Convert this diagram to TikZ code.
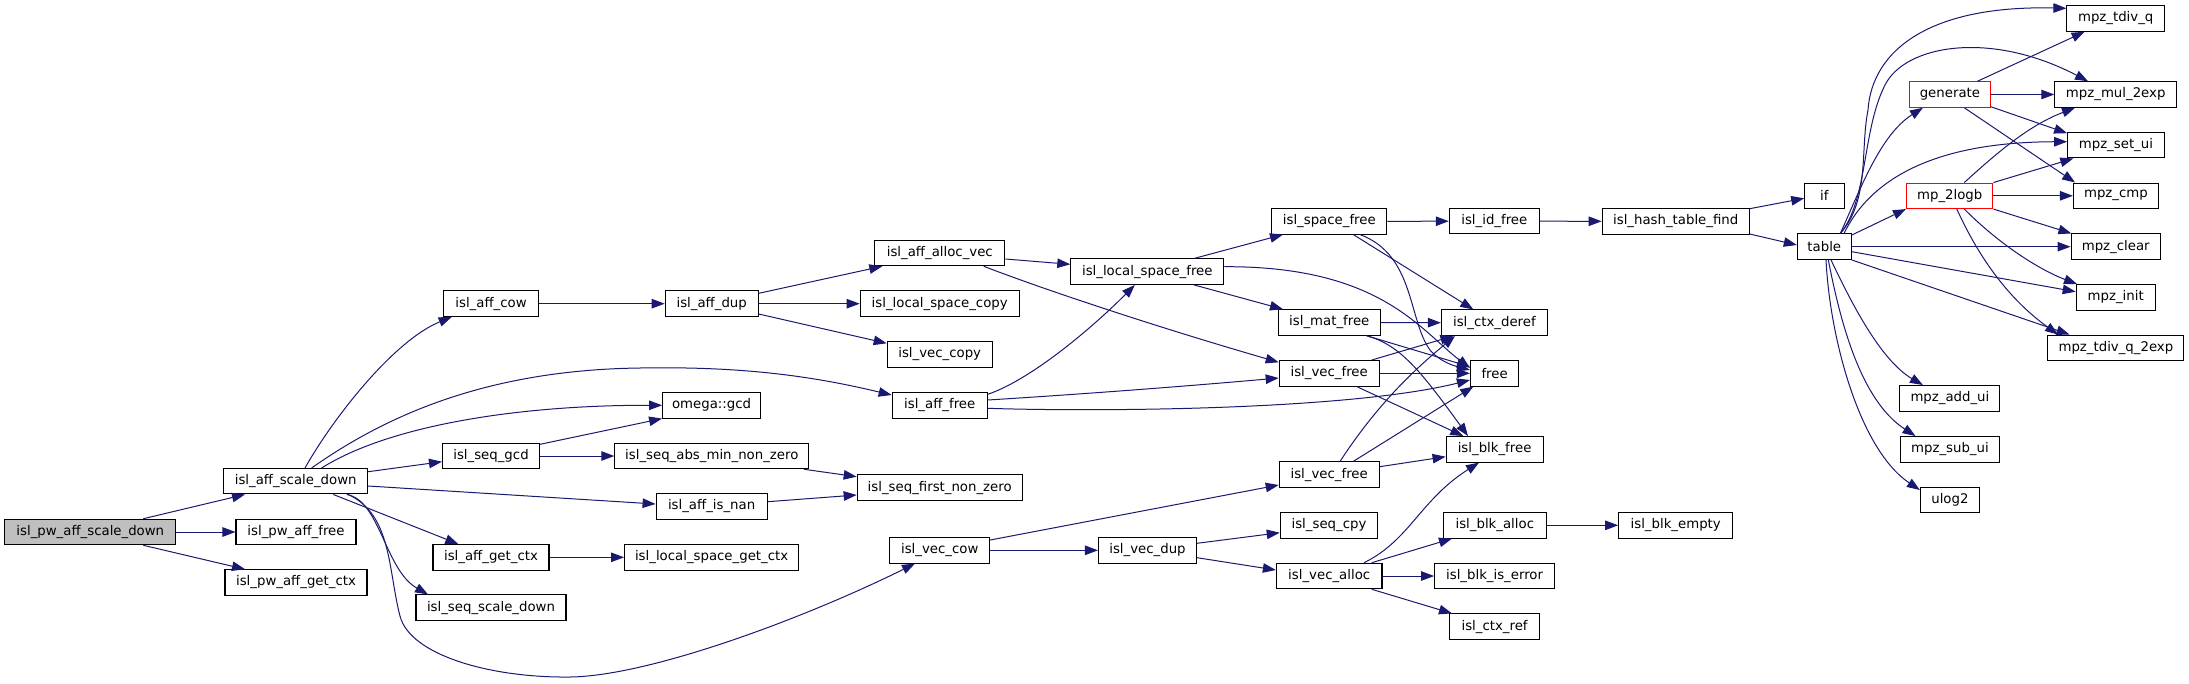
\documentclass[tikz,border=0pt]{standalone}
\usepackage{fontspec}
\setmainfont{DejaVu Sans}
\usetikzlibrary{arrows.meta}
\definecolor{edgeblue}{HTML}{191970}
\definecolor{rootgray}{HTML}{BFBFBF}
\definecolor{nodered}{HTML}{FF0000}
\tikzset{
  box/.style={draw=black, line width=1.05pt, fill=white, minimum height=25.5pt,
    inner sep=0pt, anchor=center, font=\fontsize{13.3pt}{16pt}\selectfont},
  redbox/.style={box, draw=nodered},
  edge/.style={draw=edgeblue, line width=1pt, -{Triangle[length=13pt,width=9.5pt]}}
}
\begin{document}
\begin{tikzpicture}[x=1pt,y=-1pt]
\useasboundingbox (0,0) rectangle (2189,683);
% column 1-2
\node[box, fill=rootgray, minimum width=171pt] (A) at (90.3,532) {isl\_pw\_aff\_scale\_down};
\node[box, minimum width=144pt] (B) at (295.7,481.2) {isl\_aff\_scale\_down};
\node[box, minimum width=120pt] (C) at (296,532) {isl\_pw\_aff\_free};
\node[box, minimum width=142pt] (D) at (296,582.5) {isl\_pw\_aff\_get\_ctx};
% column 3
\node[box, minimum width=95pt] (cow) at (491,303.7) {isl\_aff\_cow};
\node[box, minimum width=97pt] (seqgcd) at (491,456) {isl\_seq\_gcd};
\node[box, minimum width=116pt] (getctx) at (491,557.3) {isl\_aff\_get\_ctx};
\node[box, minimum width=150pt] (seqscale) at (491,607.7) {isl\_seq\_scale\_down};
% column 4
\node[box, minimum width=93pt] (dup) at (711.7,303.7) {isl\_aff\_dup};
\node[box, minimum width=98pt] (ogcd) at (711.6,405.3) {omega::gcd};
\node[box, minimum width=194pt] (absmin) at (711.8,456) {isl\_seq\_abs\_min\_non\_zero};
\node[box, minimum width=111pt] (isnan) at (711.6,506.3) {isl\_aff\_is\_nan};
\node[box, minimum width=174pt] (lsgetctx) at (711.6,557.3) {isl\_local\_space\_get\_ctx};
% column 5
\node[box, minimum width=130pt] (allocvec) at (939.8,253) {isl\_aff\_alloc\_vec};
\node[box, minimum width=159pt] (lscopy) at (939.7,303.7) {isl\_local\_space\_copy};
\node[box, minimum width=105pt] (veccopy) at (939.7,354.3) {isl\_vec\_copy};
\node[box, minimum width=95pt] (afffree) at (939.7,405.3) {isl\_aff\_free};
\node[box, minimum width=165pt] (firstnz) at (939.7,487.7) {isl\_seq\_first\_non\_zero};
\node[box, minimum width=100pt] (veccow) at (939.7,550.3) {isl\_vec\_cow};
% column 6
\node[box, minimum width=153pt] (lsfree) at (1147.3,271.7) {isl\_local\_space\_free};
\node[box, minimum width=98pt] (vecdup) at (1147.5,550.3) {isl\_vec\_dup};
% column 7
\node[box, minimum width=115pt] (spacefree) at (1329.3,221.3) {isl\_space\_free};
\node[box, minimum width=102.5pt] (matfree) at (1329.3,322.5) {isl\_mat\_free};
\node[box, minimum width=100pt] (vecfreeA) at (1329.2,373.3) {isl\_vec\_free};
\node[box, minimum width=100pt] (vecfreeB) at (1329.2,474.7) {isl\_vec\_free};
\node[box, minimum width=97.5pt] (seqcpy) at (1329,525.3) {isl\_seq\_cpy};
\node[box, minimum width=105.6pt] (vecalloc) at (1329.2,576) {isl\_vec\_alloc};
% column 8
\node[box, minimum width=90pt] (idfree) at (1494.3,221.2) {isl\_id\_free};
\node[box, minimum width=106pt] (ctxderef) at (1494.4,322.7) {isl\_ctx\_deref};
\node[box, minimum width=48.3pt] (free) at (1494.6,373.3) {free};
\node[box, minimum width=97pt] (blkfree) at (1494.6,449.3) {isl\_blk\_free};
\node[box, minimum width=103pt] (blkalloc) at (1494.8,525.3) {isl\_blk\_alloc};
\node[box, minimum width=120pt] (blkiserror) at (1494.6,576) {isl\_blk\_is\_error};
\node[box, minimum width=89.5pt] (ctxref) at (1494.6,626.7) {isl\_ctx\_ref};
% column 9
\node[box, minimum width=147pt] (hashfind) at (1675.7,221.3) {isl\_hash\_table\_find};
\node[box, minimum width=114pt] (blkempty) at (1675.7,525.3) {isl\_blk\_empty};
% column 10
\node[box, minimum width=39.4pt] (if) at (1824.4,195.8) {if};
\node[box, minimum width=54pt] (table) at (1824.3,246.7) {table};
% column 11
\node[redbox, minimum width=80.7pt] (generate) at (1949.9,94.5) {generate};
\node[redbox, minimum width=86.4pt] (mplogb) at (1949.7,195.8) {mp\_2logb};
\node[box, minimum width=100pt] (addui) at (1949.9,398.3) {mpz\_add\_ui};
\node[box, minimum width=99pt] (subui) at (1949.9,449.3) {mpz\_sub\_ui};
\node[box, minimum width=59pt] (ulog) at (1949.9,500) {ulog2};
% column 12
\node[box, minimum width=97.6pt] (tdivq) at (2115.7,18.5) {mpz\_tdiv\_q};
\node[box, minimum width=121.8pt] (mulexp) at (2115.7,94.5) {mpz\_mul\_2exp};
\node[box, minimum width=96.5pt] (setui) at (2115.9,145.2) {mpz\_set\_ui};
\node[box, minimum width=85pt] (cmp) at (2115.9,195.8) {mpz\_cmp};
\node[box, minimum width=89.4pt] (clear) at (2115.7,246.7) {mpz\_clear};
\node[box, minimum width=79pt] (init) at (2115.7,297.3) {mpz\_init};
\node[box, minimum width=136pt] (tdivqexp) at (2115.9,347.8) {mpz\_tdiv\_q\_2exp};

% edges from root
\draw[edge] ([xshift=53pt]A.north) -- ([xshift=-50.7pt]B.south);
\draw[edge] (A.east) -- (C.west);
\draw[edge] ([xshift=53pt]A.south) -- ([xshift=-51pt]D.north);
% edges from isl_aff_scale_down
\draw[edge] ([xshift=9.3pt]B.north) .. controls (335,415) and (395,340) .. ([xshift=-39.3pt]cow.south);
\draw[edge] ([xshift=16pt]B.north) .. controls (380,420) and (480,370) .. (640,368) .. controls (750,366) and (820,378) .. ([yshift=10.3pt]afffree.west);
\draw[edge] ([xshift=26pt]B.north) .. controls (390,425) and (520,405) .. (ogcd.west);
\draw[edge] ([yshift=9.5pt]B.east) -- ([yshift=-5.7pt]seqgcd.west);
\draw[edge] ([yshift=-4.8pt]B.east) -- ([yshift=2.3pt]isnan.west);
\draw[edge] ([xshift=37.6pt]B.south) -- ([xshift=-32.7pt]getctx.north);
\draw[edge] ([xshift=51pt]B.south) .. controls (380,500) and (385,570) .. ([xshift=-63pt]seqscale.north);
\draw[edge] ([xshift=52.6pt]B.south) .. controls (392,515) and (388,570) .. (400,616) .. controls (410,655) and (490,678) .. (570,677) .. controls (650,676) and (805,618) .. ([xshift=-24.7pt]veccow.south);
% middle
\draw[edge] (cow.east) -- (dup.west);
\draw[edge] ([yshift=10.4pt]dup.east) -- ([xshift=-57.5pt]allocvec.south);
\draw[edge] (dup.east) -- (lscopy.west);
\draw[edge] ([yshift=-10.3pt]dup.east) -- ([yshift=11pt]veccopy.west);
\draw[edge] ([yshift=-6pt]allocvec.east) -- ([yshift=7.4pt]lsfree.west);
\draw[edge] ([xshift=43.9pt]allocvec.south) .. controls (1040,288) and (1150,325) .. ([yshift=11pt]vecfreeA.west);
\draw[edge] ([yshift=11pt]afffree.east) .. controls (1030,380) and (1090,330) .. ([xshift=-12.5pt]lsfree.south);
\draw[edge] ([yshift=5.3pt]afffree.east) .. controls (1100,393) and (1200,385) .. ([yshift=-4.7pt]vecfreeA.west);
\draw[edge] ([yshift=-3pt]afffree.east) .. controls (1100,412) and (1350,410) .. ([yshift=-6.7pt]free.west);
\draw[edge] ([yshift=11.7pt]seqgcd.east) -- (ogcd.south west);
\draw[edge] (seqgcd.east) -- (absmin.west);
\draw[edge] ([xshift=92.2pt]absmin.south) -- ([yshift=11pt]firstnz.west);
\draw[edge] ([yshift=4.6pt]isnan.east) -- ([yshift=-7.3pt]firstnz.west);
\draw[edge] (getctx.east) -- (lsgetctx.west);
\draw[edge] ([yshift=10.3pt]veccow.east) -- ([yshift=-10.3pt]vecfreeB.west);
\draw[edge] (veccow.east) -- (vecdup.west);
\draw[edge] ([yshift=7pt]vecdup.east) -- ([yshift=-7.4pt]seqcpy.west);
\draw[edge] ([yshift=-7.4pt]vecdup.east) -- ([yshift=6pt]vecalloc.west);
\draw[edge] ([xshift=34.8pt]vecalloc.north) .. controls (1410,540) and (1420,500) .. ([xshift=-15.6pt]blkfree.south);
\draw[edge] ([xshift=42.5pt]vecalloc.north) -- ([xshift=-42.8pt]blkalloc.south);
\draw[edge] (vecalloc.east) -- (blkiserror.west);
\draw[edge] ([xshift=42.5pt]vecalloc.south) -- ([xshift=-42.6pt]ctxref.north);
\draw[edge] (blkalloc.east) -- (blkempty.west);
% local space free and friends
\draw[edge] ([xshift=46.9pt]lsfree.north) -- ([xshift=-46.3pt]spacefree.south);
\draw[edge] ([xshift=46.9pt]lsfree.south) -- ([xshift=-46.3pt]matfree.north);
\draw[edge] ([yshift=5pt]lsfree.east) .. controls (1380,266) and (1420,330) .. ([yshift=5.3pt]free.west);
\draw[edge] (spacefree.east) -- (idfree.west);
\draw[edge] ([xshift=24pt]spacefree.south) -- ([xshift=-21.1pt]ctxderef.north);
\draw[edge] ([xshift=30.7pt]spacefree.south) .. controls (1415,255) and (1408,320) .. (1430,350) .. controls (1440,362) and (1455,366) .. ([yshift=3.3pt]free.west);
\draw[edge] (idfree.east) -- (hashfind.west);
\draw[edge] (matfree.east) -- (ctxderef.west);
\draw[edge] ([xshift=37.4pt]matfree.south) -- ([yshift=6.6pt]free.west);
\draw[edge] ([xshift=37.4pt]matfree.south) .. controls (1400,345) and (1420,370) .. ([xshift=-26.6pt]blkfree.north);
\draw[edge] ([xshift=42.5pt]vecfreeA.north) -- ([xshift=-41pt]ctxderef.south);
\draw[edge] (vecfreeA.east) -- (free.west);
\draw[edge] ([xshift=27.5pt]vecfreeA.south) -- ([xshift=-31.3pt]blkfree.north);
\draw[edge] ([xshift=10.8pt]vecfreeB.north) .. controls (1380,400) and (1420,365) .. ([xshift=-39.4pt]ctxderef.south);
\draw[edge] ([xshift=24pt]vecfreeB.north) -- ([xshift=-21.3pt]free.south);
\draw[edge] ([yshift=8pt]vecfreeB.east) -- ([yshift=-7.4pt]blkfree.west);
% hash table
\draw[edge] ([yshift=12.6pt]hashfind.east) -- ([yshift=-2.5pt]if.west);
\draw[edge] ([yshift=-12.7pt]hashfind.east) -- ([yshift=1.7pt]table.west);
% table
\draw[edge] ([xshift=16pt]table.north) .. controls (1860,190) and (1880,135) .. ([xshift=-27pt]generate.south);
\draw[edge] ([yshift=11.7pt]table.east) -- (mplogb.south west);
\draw[edge] ([xshift=16pt]table.north) .. controls (1870,200) and (1860,150) .. (1868,110) .. controls (1872,50) and (1930,5) .. ([yshift=10.2pt]tdivq.west);
\draw[edge] ([xshift=16pt]table.north) .. controls (1868,200) and (1862,130) .. (1885,85) .. controls (1905,45) and (1990,30) .. ([xshift=-27.7pt]mulexp.north);
\draw[edge] ([xshift=19.7pt]table.north) .. controls (1875,170) and (1950,142) .. ([yshift=3.5pt]setui.west);
\draw[edge] (table.east) -- (clear.west);
\draw[edge] ([yshift=-5pt]table.east) -- ([yshift=5.6pt]init.west);
\draw[edge] (table.south east) -- ([xshift=-46.4pt]tdivqexp.north);
\draw[edge] ([xshift=6.7pt]table.south) .. controls (1850,300) and (1880,360) .. ([xshift=-27pt]addui.north);
\draw[edge] ([xshift=4pt]table.south) .. controls (1840,320) and (1860,400) .. ([xshift=-34.4pt]subui.north);
\draw[edge] ([xshift=1.7pt]table.south) .. controls (1830,340) and (1860,450) .. ([yshift=10pt]ulog.west);
% generate
\draw[edge] ([xshift=27.6pt]generate.north) -- ([xshift=-31.1pt]tdivq.south);
\draw[edge] (generate.east) -- (mulexp.west);
\draw[edge] ([yshift=-12.2pt]generate.east) -- ([yshift=12pt]setui.west);
\draw[edge] ([xshift=14.4pt]generate.south) -- ([xshift=-40.8pt]cmp.north);
% mp_2logb
\draw[edge] ([xshift=14.6pt]mplogb.north) .. controls (2000,150) and (2030,125) .. ([xshift=-40.7pt]mulexp.south);
\draw[edge] (mplogb.north east) -- ([xshift=-42.6pt]setui.south);
\draw[edge] (mplogb.east) -- (cmp.west);
\draw[edge] (mplogb.south east) -- ([xshift=-44.3pt]clear.north);
\draw[edge] ([xshift=14.6pt]mplogb.south) .. controls (2000,245) and (2040,270) .. ([xshift=-38.7pt]init.north);
\draw[edge] ([xshift=7.1pt]mplogb.south) .. controls (1980,260) and (2010,300) .. ([xshift=-57.9pt]tdivqexp.north);
\end{tikzpicture}
\end{document}
